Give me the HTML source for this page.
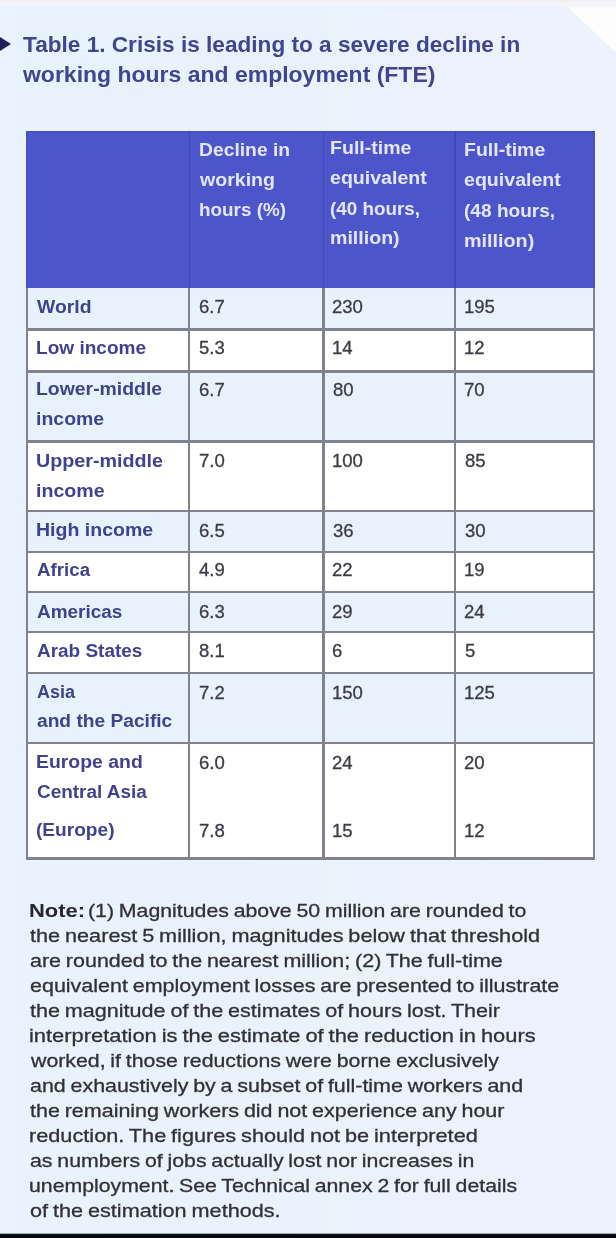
<!DOCTYPE html>
<html><head><meta charset="utf-8"><title>Table 1</title>
<style>
html,body{margin:0;padding:0}
body{width:616px;height:1238px;position:relative;overflow:hidden;background:linear-gradient(90deg,#e8f3fd 0,#eaf2fc 55%,#edf2fe 100%);font-family:"Liberation Sans",sans-serif}
.t{position:absolute;white-space:nowrap;transform-origin:0 50%;font-weight:400}
.t.b{font-weight:700}
.t.s{-webkit-text-stroke:0.3px}
.hdr{position:absolute;background:#4c56ca;box-sizing:border-box;border-top:2px solid #4852be;border-left:2px solid #4852be;border-right:2px solid #4852be}
.row{position:absolute}
.hs{position:absolute;width:1.5px;background:#3f48b4}
.hb{position:absolute;height:2.4px;background:#80838e}
.vb{position:absolute;width:2.4px;background:#80838e}
.topband{position:absolute;left:0;top:0;width:616px;height:9px;background:linear-gradient(#eeeef0 0,#f4f3f6 25%,#f5f4f9 50%,rgba(240,243,252,0.6) 75%,rgba(236,243,253,0) 100%)}
.corner{position:absolute;left:556px;top:0;width:60px;height:56px;background:#fdfdfe;clip-path:polygon(4px 0,60px 0,60px 52.5px)}
.arrow{position:absolute;left:0;top:37px;width:0;height:0;border-left:11.5px solid #1d2158;border-top:7.5px solid transparent;border-bottom:7.5px solid transparent}
#c{position:absolute;left:0;top:0;width:616px;height:1238px;filter:blur(0.5px)}
.bar{position:absolute;left:0;top:1232.5px;width:616px;height:5.5px;background:linear-gradient(rgba(4,7,14,0) 0,#04070e 1.6px,#04070e 100%)}
</style></head><body>
<div class="corner"></div>
<div class="topband"></div>
<div id="c">
<div class="arrow"></div>
<div class="hdr" style="left:26px;top:131.3px;width:569px;height:156.3px"></div>
<div class="row" style="left:27px;top:287.6px;width:567px;height:42px;background:#e8f2fd"></div>
<div class="row" style="left:27px;top:329.6px;width:567px;height:41.8px;background:#ffffff"></div>
<div class="row" style="left:27px;top:371.4px;width:567px;height:70.2px;background:#e8f2fd"></div>
<div class="row" style="left:27px;top:441.6px;width:567px;height:69.3px;background:#ffffff"></div>
<div class="row" style="left:27px;top:510.9px;width:567px;height:41.2px;background:#e8f2fd"></div>
<div class="row" style="left:27px;top:552.1px;width:567px;height:40.1px;background:#ffffff"></div>
<div class="row" style="left:27px;top:592.2px;width:567px;height:40.1px;background:#e8f2fd"></div>
<div class="row" style="left:27px;top:632.3px;width:567px;height:40.9px;background:#ffffff"></div>
<div class="row" style="left:27px;top:673.2px;width:567px;height:69.6px;background:#e8f2fd"></div>
<div class="row" style="left:27px;top:742.8px;width:567px;height:115.8px;background:#ffffff"></div>
<div class="hs" style="left:188.55px;top:131.3px;height:156.3px"></div>
<div class="hs" style="left:322.85px;top:131.3px;height:156.3px"></div>
<div class="hs" style="left:454.25px;top:131.3px;height:156.3px"></div>
<div class="hb" style="left:25.8px;top:328.4px;width:569.4px"></div>
<div class="hb" style="left:25.8px;top:370.2px;width:569.4px"></div>
<div class="hb" style="left:25.8px;top:440.4px;width:569.4px"></div>
<div class="hb" style="left:25.8px;top:509.7px;width:569.4px"></div>
<div class="hb" style="left:25.8px;top:550.9px;width:569.4px"></div>
<div class="hb" style="left:25.8px;top:591px;width:569.4px"></div>
<div class="hb" style="left:25.8px;top:631.1px;width:569.4px"></div>
<div class="hb" style="left:25.8px;top:672px;width:569.4px"></div>
<div class="hb" style="left:25.8px;top:741.6px;width:569.4px"></div>
<div class="hb" style="left:25.8px;top:857.4px;width:569.4px"></div>
<div class="vb" style="left:25.8px;top:287.6px;height:572.2px"></div>
<div class="vb" style="left:188.1px;top:287.6px;height:572.2px"></div>
<div class="vb" style="left:322.4px;top:287.6px;height:572.2px"></div>
<div class="vb" style="left:453.8px;top:287.6px;height:572.2px"></div>
<div class="vb" style="left:592.8px;top:287.6px;height:572.2px"></div>
<div class="t b" style="left:22.97px;top:31.65px;font-size:21.5px;line-height:26px;color:#414590;transform:scaleX(1.0516)">Table 1. Crisis is leading to a severe decline in</div>
<div class="t b" style="left:23.31px;top:61.65px;font-size:21.5px;line-height:26px;color:#414590;transform:scaleX(1.0688)">working hours and employment (FTE)</div>
<div class="t b" style="left:198.95px;top:140.04px;font-size:17.5px;line-height:21px;color:#e3e6f8;transform:scaleX(1.1025)">Decline in</div>
<div class="t b" style="left:200.30px;top:170.34px;font-size:17.5px;line-height:21px;color:#e3e6f8;transform:scaleX(1.1179)">working</div>
<div class="t b" style="left:198.93px;top:200.34px;font-size:17.5px;line-height:21px;color:#e3e6f8;transform:scaleX(1.0780)">hours (%)</div>
<div class="t b" style="left:329.73px;top:137.94px;font-size:17.5px;line-height:21px;color:#e3e6f8;transform:scaleX(1.1169)">Full-time</div>
<div class="t b" style="left:330.27px;top:168.34px;font-size:17.5px;line-height:21px;color:#e3e6f8;transform:scaleX(1.1178)">equivalent</div>
<div class="t b" style="left:330.10px;top:198.74px;font-size:17.5px;line-height:21px;color:#e3e6f8;transform:scaleX(1.0767)">(40 hours,</div>
<div class="t b" style="left:329.73px;top:228.44px;font-size:17.5px;line-height:21px;color:#e3e6f8;transform:scaleX(1.1188)">million)</div>
<div class="t b" style="left:463.73px;top:139.54px;font-size:17.5px;line-height:21px;color:#e3e6f8;transform:scaleX(1.1141)">Full-time</div>
<div class="t b" style="left:464.27px;top:170.34px;font-size:17.5px;line-height:21px;color:#e3e6f8;transform:scaleX(1.1189)">equivalent</div>
<div class="t b" style="left:464.09px;top:200.74px;font-size:17.5px;line-height:21px;color:#e3e6f8;transform:scaleX(1.0902)">(48 hours,</div>
<div class="t b" style="left:463.72px;top:230.54px;font-size:17.5px;line-height:21px;color:#e3e6f8;transform:scaleX(1.1287)">million)</div>
<div class="t b" style="left:37.30px;top:296.64px;font-size:17.5px;line-height:21px;color:#3f438e;transform:scaleX(1.1065)">World</div>
<div class="t b" style="left:36.06px;top:338.04px;font-size:17.5px;line-height:21px;color:#3f438e;transform:scaleX(1.0885)">Low income</div>
<div class="t b" style="left:36.04px;top:379.44px;font-size:17.5px;line-height:21px;color:#3f438e;transform:scaleX(1.1085)">Lower-middle</div>
<div class="t b" style="left:35.99px;top:409.14px;font-size:17.5px;line-height:21px;color:#3f438e;transform:scaleX(1.1126)">income</div>
<div class="t b" style="left:36.12px;top:450.64px;font-size:17.5px;line-height:21px;color:#3f438e;transform:scaleX(1.1262)">Upper-middle</div>
<div class="t b" style="left:35.98px;top:481.04px;font-size:17.5px;line-height:21px;color:#3f438e;transform:scaleX(1.1210)">income</div>
<div class="t b" style="left:36.03px;top:520.44px;font-size:17.5px;line-height:21px;color:#3f438e;transform:scaleX(1.1153)">High income</div>
<div class="t b" style="left:36.83px;top:559.74px;font-size:17.5px;line-height:21px;color:#3f438e;transform:scaleX(1.0698)">Africa</div>
<div class="t b" style="left:36.83px;top:601.54px;font-size:17.5px;line-height:21px;color:#3f438e;transform:scaleX(1.0837)">Americas</div>
<div class="t b" style="left:36.83px;top:640.94px;font-size:17.5px;line-height:21px;color:#3f438e;transform:scaleX(1.0836)">Arab States</div>
<div class="t b" style="left:36.85px;top:682.34px;font-size:17.5px;line-height:21px;color:#3f438e;transform:scaleX(1.0295)">Asia</div>
<div class="t b" style="left:36.77px;top:711.04px;font-size:17.5px;line-height:21px;color:#3f438e;transform:scaleX(1.0951)">and the Pacific</div>
<div class="t b" style="left:36.04px;top:752.34px;font-size:17.5px;line-height:21px;color:#3f438e;transform:scaleX(1.1088)">Europe and</div>
<div class="t b" style="left:36.54px;top:782.34px;font-size:17.5px;line-height:21px;color:#3f438e;transform:scaleX(1.0824)">Central Asia</div>
<div class="t b" style="left:36.39px;top:820.44px;font-size:17.5px;line-height:21px;color:#3f438e;transform:scaleX(1.0916)">(Europe)</div>
<div class="t s" style="left:198.57px;top:295.96px;font-size:18px;line-height:22px;color:#3b3c44;transform:scaleX(1.0300)">6.7</div>
<div class="t s" style="left:332.47px;top:295.96px;font-size:18px;line-height:22px;color:#3b3c44;transform:scaleX(1.0300)">230</div>
<div class="t s" style="left:463.91px;top:295.96px;font-size:18px;line-height:22px;color:#3b3c44;transform:scaleX(1.0300)">195</div>
<div class="t s" style="left:198.76px;top:337.16px;font-size:18px;line-height:22px;color:#3b3c44;transform:scaleX(1.0300)">5.3</div>
<div class="t s" style="left:332.01px;top:337.16px;font-size:18px;line-height:22px;color:#3b3c44;transform:scaleX(1.0300)">14</div>
<div class="t s" style="left:463.91px;top:337.16px;font-size:18px;line-height:22px;color:#3b3c44;transform:scaleX(1.0300)">12</div>
<div class="t s" style="left:198.57px;top:378.66px;font-size:18px;line-height:22px;color:#3b3c44;transform:scaleX(1.0300)">6.7</div>
<div class="t s" style="left:332.61px;top:378.66px;font-size:18px;line-height:22px;color:#3b3c44;transform:scaleX(1.0300)">80</div>
<div class="t s" style="left:464.37px;top:378.66px;font-size:18px;line-height:22px;color:#3b3c44;transform:scaleX(1.0300)">70</div>
<div class="t s" style="left:198.57px;top:449.86px;font-size:18px;line-height:22px;color:#3b3c44;transform:scaleX(1.0300)">7.0</div>
<div class="t s" style="left:332.01px;top:449.86px;font-size:18px;line-height:22px;color:#3b3c44;transform:scaleX(1.0300)">100</div>
<div class="t s" style="left:464.51px;top:449.86px;font-size:18px;line-height:22px;color:#3b3c44;transform:scaleX(1.0300)">85</div>
<div class="t s" style="left:198.57px;top:519.66px;font-size:18px;line-height:22px;color:#3b3c44;transform:scaleX(1.0300)">6.5</div>
<div class="t s" style="left:332.70px;top:519.66px;font-size:18px;line-height:22px;color:#3b3c44;transform:scaleX(1.0300)">36</div>
<div class="t s" style="left:464.60px;top:519.66px;font-size:18px;line-height:22px;color:#3b3c44;transform:scaleX(1.0300)">30</div>
<div class="t s" style="left:199.08px;top:558.96px;font-size:18px;line-height:22px;color:#3b3c44;transform:scaleX(1.0300)">4.9</div>
<div class="t s" style="left:332.47px;top:558.96px;font-size:18px;line-height:22px;color:#3b3c44;transform:scaleX(1.0300)">22</div>
<div class="t s" style="left:463.91px;top:558.96px;font-size:18px;line-height:22px;color:#3b3c44;transform:scaleX(1.0300)">19</div>
<div class="t s" style="left:198.57px;top:600.76px;font-size:18px;line-height:22px;color:#3b3c44;transform:scaleX(1.0300)">6.3</div>
<div class="t s" style="left:332.47px;top:600.76px;font-size:18px;line-height:22px;color:#3b3c44;transform:scaleX(1.0300)">29</div>
<div class="t s" style="left:464.37px;top:600.76px;font-size:18px;line-height:22px;color:#3b3c44;transform:scaleX(1.0300)">24</div>
<div class="t s" style="left:198.71px;top:640.16px;font-size:18px;line-height:22px;color:#3b3c44;transform:scaleX(1.0300)">8.1</div>
<div class="t s" style="left:332.47px;top:640.16px;font-size:18px;line-height:22px;color:#3b3c44;transform:scaleX(1.0300)">6</div>
<div class="t s" style="left:464.56px;top:640.16px;font-size:18px;line-height:22px;color:#3b3c44;transform:scaleX(1.0300)">5</div>
<div class="t s" style="left:198.57px;top:681.56px;font-size:18px;line-height:22px;color:#3b3c44;transform:scaleX(1.0300)">7.2</div>
<div class="t s" style="left:332.01px;top:681.56px;font-size:18px;line-height:22px;color:#3b3c44;transform:scaleX(1.0300)">150</div>
<div class="t s" style="left:463.91px;top:681.56px;font-size:18px;line-height:22px;color:#3b3c44;transform:scaleX(1.0300)">125</div>
<div class="t s" style="left:198.57px;top:751.56px;font-size:18px;line-height:22px;color:#3b3c44;transform:scaleX(1.0300)">6.0</div>
<div class="t s" style="left:332.47px;top:751.56px;font-size:18px;line-height:22px;color:#3b3c44;transform:scaleX(1.0300)">24</div>
<div class="t s" style="left:464.37px;top:751.56px;font-size:18px;line-height:22px;color:#3b3c44;transform:scaleX(1.0300)">20</div>
<div class="t s" style="left:198.57px;top:819.66px;font-size:18px;line-height:22px;color:#3b3c44;transform:scaleX(1.0300)">7.8</div>
<div class="t s" style="left:332.01px;top:819.66px;font-size:18px;line-height:22px;color:#3b3c44;transform:scaleX(1.0300)">15</div>
<div class="t s" style="left:463.91px;top:819.66px;font-size:18px;line-height:22px;color:#3b3c44;transform:scaleX(1.0300)">12</div>
<div class="t b" style="left:29.27px;top:898.62px;font-size:19px;line-height:23px;color:#26262c;transform:scaleX(1.1559)">Note:</div>
<div class="t s" style="left:87.92px;top:898.62px;font-size:19px;line-height:23px;color:#303036;transform:scaleX(1.1205);word-spacing:-1px">(1) Magnitudes above 50 million are rounded to</div>
<div class="t s" style="left:30.37px;top:923.69px;font-size:19px;line-height:23px;color:#303036;transform:scaleX(1.1407);word-spacing:-1px">the nearest 5 million, magnitudes below that threshold</div>
<div class="t s" style="left:29.79px;top:948.76px;font-size:19px;line-height:23px;color:#303036;transform:scaleX(1.1301);word-spacing:-1px">are rounded to the nearest million; (2) The full-time</div>
<div class="t s" style="left:29.79px;top:973.83px;font-size:19px;line-height:23px;color:#303036;transform:scaleX(1.1304);word-spacing:-1px">equivalent employment losses are presented to illustrate</div>
<div class="t s" style="left:30.38px;top:998.90px;font-size:19px;line-height:23px;color:#303036;transform:scaleX(1.1351);word-spacing:-1px">the magnitude of the estimates of hours lost. Their</div>
<div class="t s" style="left:29.28px;top:1023.97px;font-size:19px;line-height:23px;color:#303036;transform:scaleX(1.1520);word-spacing:-1px">interpretation is the estimate of the reduction in hours</div>
<div class="t s" style="left:30.75px;top:1049.04px;font-size:19px;line-height:23px;color:#303036;transform:scaleX(1.1208);word-spacing:-1px">worked, if those reductions were borne exclusively</div>
<div class="t s" style="left:29.79px;top:1074.11px;font-size:19px;line-height:23px;color:#303036;transform:scaleX(1.1268);word-spacing:-1px">and exhaustively by a subset of full-time workers and</div>
<div class="t s" style="left:30.38px;top:1099.18px;font-size:19px;line-height:23px;color:#303036;transform:scaleX(1.1305);word-spacing:-1px">the remaining workers did not experience any hour</div>
<div class="t s" style="left:29.29px;top:1124.25px;font-size:19px;line-height:23px;color:#303036;transform:scaleX(1.1422);word-spacing:-1px">reduction. The figures should not be interpreted</div>
<div class="t s" style="left:29.79px;top:1149.32px;font-size:19px;line-height:23px;color:#303036;transform:scaleX(1.1208);word-spacing:-1px">as numbers of jobs actually lost nor increases in</div>
<div class="t s" style="left:29.37px;top:1174.39px;font-size:19px;line-height:23px;color:#303036;transform:scaleX(1.1187);word-spacing:-1px">unemployment. See Technical annex 2 for full details</div>
<div class="t s" style="left:29.83px;top:1199.46px;font-size:19px;line-height:23px;color:#303036;transform:scaleX(1.1401);word-spacing:-1px">of the estimation methods.</div>
</div>
<div class="bar"></div>
</body></html>
